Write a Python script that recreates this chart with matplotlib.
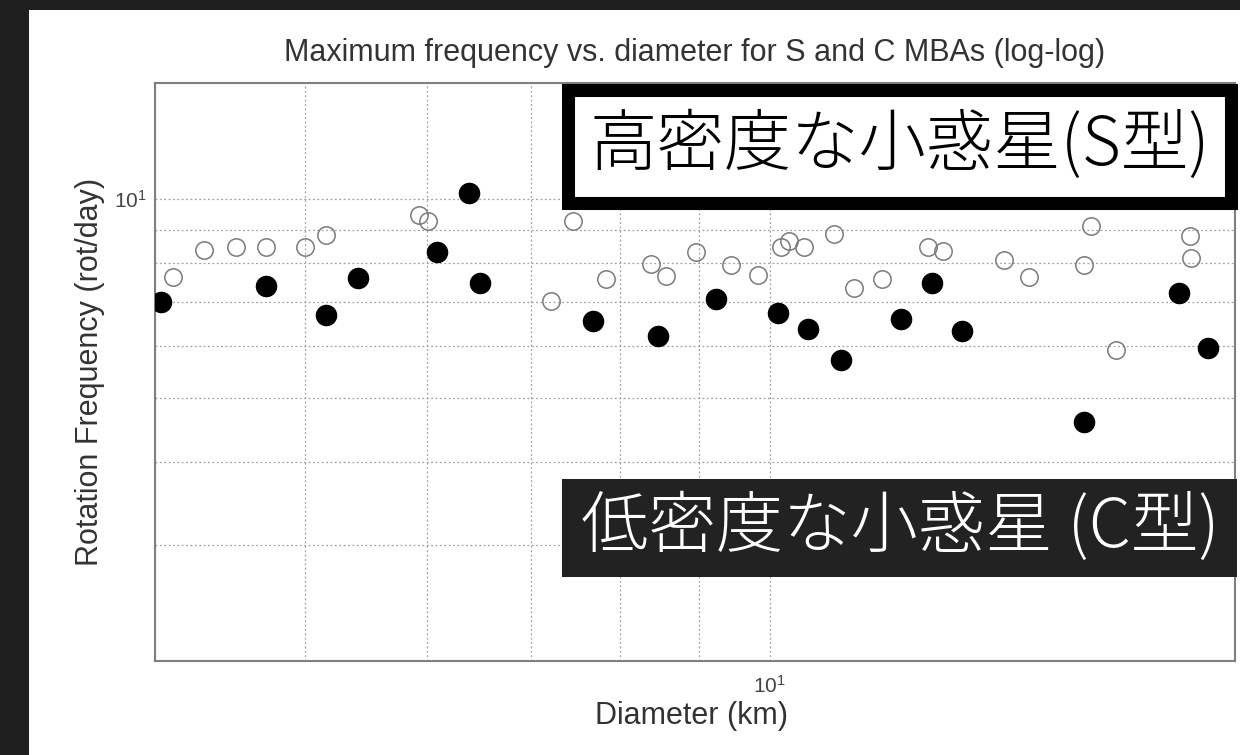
import matplotlib
matplotlib.use("Agg")
import matplotlib.pyplot as plt
from matplotlib.patches import Rectangle
from matplotlib.ticker import NullFormatter

plt.rcParams["font.family"] = ["Liberation Sans", "Noto Sans CJK JP", "DejaVu Sans"]

# S-type main-belt asteroids (open circles): diameter [km], rotation frequency [rot/day]
s_diam = [4.11, 4.30, 4.51, 4.72, 5.00, 5.16, 5.93, 6.01, 7.46, 7.22, 7.83,
          8.38, 8.57, 8.96, 9.44, 9.82, 10.16, 10.29, 10.52, 11.01, 11.33,
          11.81, 12.65, 12.95, 14.18, 14.72, 15.97, 16.14, 16.75, 18.69, 18.72]
s_freq = [7.64, 8.37, 8.48, 8.46, 8.46, 8.82, 9.46, 9.26, 9.26, 7.02, 7.58,
          7.99, 7.66, 8.31, 7.94, 7.69, 8.48, 8.66, 8.48, 8.85, 7.35,
          7.58, 8.46, 8.34, 8.08, 7.64, 7.94, 9.10, 5.92, 8.79, 8.14]

# C-type main-belt asteroids (filled circles)
c_diam = [4.035, 4.72, 5.16, 5.41, 6.09, 6.39, 6.49, 7.68, 8.46, 9.23,
          10.12, 10.58, 11.11, 12.15, 12.74, 13.32, 15.97, 18.39, 19.22]
c_freq = [7.00, 7.38, 6.69, 7.61, 8.31, 10.21, 7.48, 6.55, 6.21, 7.07,
          6.73, 6.37, 5.71, 6.59, 7.48, 6.32, 4.60, 7.22, 5.96]

title = "Maximum frequency vs. diameter for S and C MBAs (log-log)"
x_label = "Diameter (km)"
y_label = "Rotation Frequency (rot/day)"
s_note = "高密度な小惑星(S型)"
c_note = "低密度な小惑星 (C型)"

W, H = 1240, 755


def fx(px):
    return px / W


def fy(py):
    return 1 - py / H


fig = plt.figure(figsize=(W / 100, H / 100), dpi=100, facecolor="#1f1f1f")
fig.add_artist(Rectangle((fx(29), 0), 1 - fx(29), fy(10), transform=fig.transFigure,
                         facecolor="white", edgecolor="none", zorder=-1))

ax = fig.add_axes([fx(155), fy(661), (1235 - 155) / W, (661 - 83) / H])
ax.set_xscale("log")
ax.set_yscale("log")

ax.plot(s_diam, s_freq, "o", ms=12.5, mfc="none", mec="#7a7a7a", mew=1.1, zorder=3)
ax.plot(c_diam, c_freq, "o", ms=14.5, mfc="black", mec="black", zorder=4)

ax.set_xlim(4, 20)
ax.set_ylim(2, 15)
ax.xaxis.set_minor_formatter(NullFormatter())
ax.yaxis.set_minor_formatter(NullFormatter())
ax.grid(True, which="both", linestyle=(0, (1.5, 2)), color="#a0a0a0", linewidth=0.9)
ax.tick_params(which="both", length=0, labelsize=15, labelcolor="#444444")
ax.tick_params(axis="x", pad=10)
ax.tick_params(axis="y", pad=6)
for sp in ax.spines.values():
    sp.set_color("#808080")
    sp.set_linewidth(1.5)

ax.set_title(title, fontsize=22, color="#333333", pad=16)
ax.set_xlabel(x_label, fontsize=22, color="#333333", va="center")
ax.set_ylabel(y_label, fontsize=22, color="#333333", va="center")
ax.xaxis.set_label_coords(0.497, -(716 - 661) / 578)
ax.yaxis.set_label_coords(-(155 - 90) / 1080, 0.5)

# annotation boxes
cjk = ["Noto Sans CJK JP", "DejaVu Sans"]
fig.add_artist(Rectangle((fx(567.5), fy(202.5)), fx(1230.5) - fx(567.5), fy(89.5) - fy(202.5),
                         transform=fig.transFigure, facecolor="white", edgecolor="black",
                         linewidth=9.4, zorder=10))
fig.text(fx(900), fy(146), s_note, ha="center", va="center", fontsize=48.5,
         family=cjk, weight="light", color="black", zorder=11)

fig.add_artist(Rectangle((fx(562), fy(577)), fx(1237) - fx(562), fy(479) - fy(577),
                         transform=fig.transFigure, facecolor="#222222", edgecolor="none",
                         zorder=10))
fig.text(fx(900), fy(528), c_note, ha="center", va="center", fontsize=48.5,
         family=cjk, weight="light", color="white", zorder=11)

fig.savefig("out.png", dpi=100, facecolor=fig.get_facecolor())
